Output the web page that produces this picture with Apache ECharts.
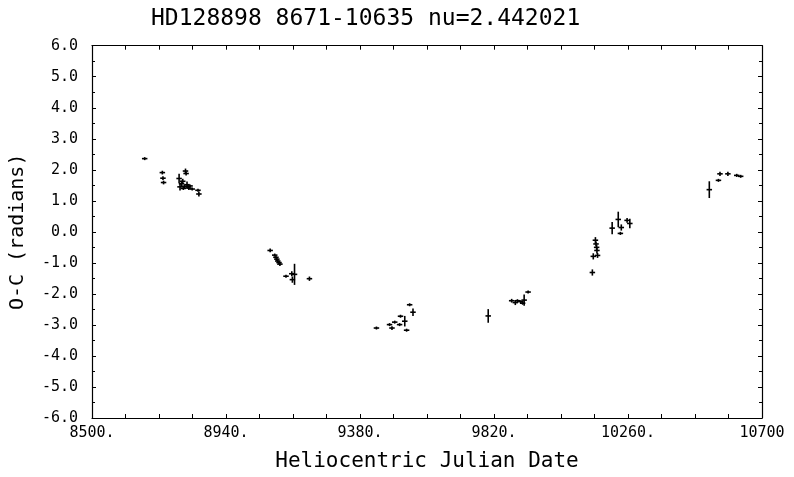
<!DOCTYPE html>
<html>
<head>
<meta charset="utf-8">
<script src="https://cdn.jsdelivr.net/npm/echarts@6/dist/echarts.min.js"></script>
<style>html,body{margin:0;padding:0;background:#fff;}#c{width:794px;height:477px;}</style>
</head>
<body>
<div id="c"></div>
<script>
var titleText = 'HD128898 8671-10635 nu=2.442021';
var xName = 'Heliocentric Julian Date';
var yName = 'O-C (radians)';
var xStart = 8500, xEnd = 10700, xStep = 440;
var xTickLabels = ['8500.', '8940.', '9380.', '9820.', '10260.', '10700'];
var yTickLabels = ['-6.0','-5.0','-4.0','-3.0','-2.0','-1.0','0.0','1.0','2.0','3.0','4.0','5.0','6.0'];

var jd = [8673, 8731, 8733, 8735,
  8786, 8789, 8794, 8798, 8800, 8804, 8807, 8809, 8812, 8815, 8818, 8822, 8829, 8848, 8851,
  9085, 9100, 9104, 9107, 9110, 9114, 9117, 9137, 9156, 9158, 9165, 9214,
  9434, 9477, 9485, 9494, 9510, 9513, 9527, 9533, 9543, 9554,
  9801, 9878, 9890, 9897, 9908, 9914, 9919, 9932,
  10143, 10146, 10153, 10155, 10157, 10158, 10160, 10208, 10228, 10238, 10235, 10257, 10266,
  10527, 10557, 10562, 10588, 10617, 10630];
var oc = [2.36, 1.91, 1.73, 1.59,
  1.72, 1.45, 1.55, 1.63, 1.40, 1.47, 1.96, 1.88, 1.52, 1.45, 1.41, 1.48, 1.38, 1.34, 1.22,
  -0.60, -0.75, -0.82, -0.88, -0.94, -0.99, -1.04, -1.43, -1.35, -1.54, -1.37, -1.51,
  -3.10, -2.99, -3.10, -2.91, -2.99, -2.72, -2.88, -3.17, -2.35, -2.59,
  -2.71, -2.22, -2.28, -2.22, -2.25, -2.30, -2.20, -1.94,
  -1.31, -0.79, -0.27, -0.39, -0.50, -0.60, -0.76, 0.12, 0.40, 0.14, -0.05, 0.37, 0.27,
  1.36, 1.66, 1.87, 1.87, 1.82, 1.79];
var ocErr = [0.02, 0.06, 0.06, 0.06,
  0.15, 0.12, 0.10, 0.08, 0.05, 0.06, 0.08, 0.06, 0.10, 0.05, 0.06, 0.05, 0.05, 0.05, 0.08,
  0.06, 0.05, 0.05, 0.06, 0.05, 0.05, 0.06, 0.05, 0.08, 0.10, 0.34, 0.07,
  0.02, 0.04, 0.06, 0.04, 0.03, 0.02, 0.17, 0.03, 0.03, 0.12,
  0.22, 0.06, 0.08, 0.03, 0.03, 0.05, 0.18, 0.03,
  0.10, 0.10, 0.10, 0.08, 0.08, 0.10, 0.08, 0.20, 0.25, 0.10, 0.05, 0.08, 0.15,
  0.27, 0.02, 0.07, 0.07, 0.05, 0.03];

var HALF_W = 9; // horizontal half-length of each cross, in days
var data = jd.map(function (d, i) { return [d - xStart, oc[i], ocErr[i]]; });

var font = 'DejaVu Sans Mono';
var chart = echarts.init(document.getElementById('c'), null, {renderer: 'canvas', width: 794, height: 477});
var axisLine = {show: true, onZero: false, lineStyle: {color: '#000', width: 1.2}};
function xAx(pos, showLabel) {
  return {
    type: 'value', position: pos, min: 0, max: xEnd - xStart, interval: xStep,
    axisLine: axisLine,
    axisTick: {show: true, inside: true, length: 4, lineStyle: {color: '#000'}},
    minorTick: {show: true, splitNumber: 4, length: 4, lineStyle: {color: '#000'}},
    splitLine: {show: false},
    axisLabel: {show: showLabel, inside: false, margin: 8, color: '#000', fontFamily: font, fontSize: 15,
      formatter: function (v) { return xTickLabels[Math.round(v / xStep)]; }},
    name: showLabel ? xName : '', nameLocation: 'middle', nameGap: 33,
    nameTextStyle: {color: '#000', fontFamily: font, fontSize: 21}
  };
}
function yAx(pos, showLabel) {
  return {
    type: 'value', position: pos, min: -6, max: 6, interval: 1,
    axisLine: axisLine,
    axisTick: {show: true, inside: true, length: 4, lineStyle: {color: '#000'}},
    minorTick: {show: true, splitNumber: 2, length: 3, lineStyle: {color: '#000'}},
    splitLine: {show: false},
    axisLabel: {show: showLabel, margin: 14, color: '#000', fontFamily: font, fontSize: 15,
      formatter: function (v) { return yTickLabels[Math.round(v + 6)]; }},
    name: showLabel ? yName : '', nameLocation: 'middle', nameGap: 64, nameRotate: 90,
    nameTextStyle: {color: '#000', fontFamily: font, fontSize: 20}
  };
}

chart.setOption({
  animation: false,
  backgroundColor: '#fff',
  title: {text: titleText, left: 146, top: 3,
    textStyle: {color: '#000', fontFamily: font, fontSize: 23, fontWeight: 'normal'}},
  grid: {left: 89.5, right: 32, top: 45.7, bottom: 53.7},
  xAxis: [xAx('bottom', true), xAx('top', false)],
  yAxis: [yAx('left', true), yAx('right', false)],
  series: [{
    type: 'custom',
    data: data,
    clip: false,
    renderItem: function (params, api) {
      var x = api.value(0), y = api.value(1), e = api.value(2);
      var l = api.coord([x - HALF_W, y]), r = api.coord([x + HALF_W, y]);
      var t = api.coord([x, y + e]), b = api.coord([x, y - e]);
      if (t[1] > b[1] - 3) { var c = api.coord([x, y]); t = [c[0], c[1] - 1.5]; b = [c[0], c[1] + 1.5]; }
      var st = {stroke: '#000', lineWidth: 1.6};
      return {type: 'group', children: [
        {type: 'line', shape: {x1: l[0], y1: l[1], x2: r[0], y2: r[1]}, style: st},
        {type: 'line', shape: {x1: t[0], y1: t[1], x2: b[0], y2: b[1]}, style: st}
      ]};
    }
  }]
});
</script>
</body>
</html>
